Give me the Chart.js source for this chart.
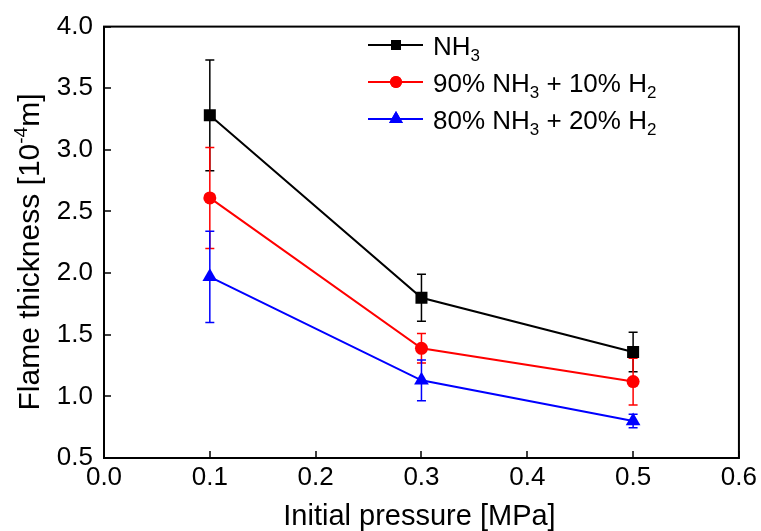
<!DOCTYPE html>
<html>
<head>
<meta charset="utf-8">
<script src="https://cdn.jsdelivr.net/npm/chart.js@4.4.1/dist/chart.umd.min.js"></script>
<style>
html,body{margin:0;padding:0;background:#fff;}
#wrap{width:761px;height:531px;position:relative;}
</style>
</head>
<body>
<div id="wrap"><canvas id="c" width="761" height="531"></canvas></div>
<script>
// ---- data ----
const pressures = [0.1, 0.3, 0.5];
const nh3 = [3.28, 1.80, 1.36];
const nh3Err = [0.45, 0.19, 0.16];
const h2_10 = [2.61, 1.39, 1.12];
const h2_10Err = [0.41, 0.12, 0.19];
const h2_20 = [1.97, 1.13, 0.80];
const h2_20Err = [0.37, 0.165, 0.055];
const xTicks = [0.0, 0.1, 0.2, 0.3, 0.4, 0.5, 0.6];
const yTicks = [0.5, 1.0, 1.5, 2.0, 2.5, 3.0, 3.5, 4.0];
const legendLabels = [
  [['NH', 'n'], ['3', 'sub']],
  [['90% NH', 'n'], ['3', 'sub'], [' + 10% H', 'n'], ['2', 'sub']],
  [['80% NH', 'n'], ['3', 'sub'], [' + 20% H', 'n'], ['2', 'sub']]
];

const REG = '"Liberation Sans", Arial, sans-serif';

function pts(ys){ return pressures.map((x,i)=>({x:x, y:ys[i]})); }

const series = [
  {label:'NH3', data:nh3, err:nh3Err, color:'#000000', style:'rect', r:8.5, lr:7},
  {label:'90% NH3 + 10% H2', data:h2_10, err:h2_10Err, color:'#ff0000', style:'circle', r:6.5, lr:6},
  {label:'80% NH3 + 20% H2', data:h2_20, err:h2_20Err, color:'#0000ff', style:'triangle', r:8.5, lr:8}
];

const errorBars = {
  id:'errorBars',
  beforeDatasetsDraw(chart){
    const ctx = chart.ctx, xs = chart.scales.x, ys = chart.scales.y;
    ctx.save();
    series.forEach(s=>{
      ctx.strokeStyle = s.color;
      ctx.lineWidth = 1.5;
      pressures.forEach((p,i)=>{
        const px = xs.getPixelForValue(p);
        const top = ys.getPixelForValue(s.data[i] + s.err[i]);
        const bot = ys.getPixelForValue(s.data[i] - s.err[i]);
        ctx.beginPath();
        ctx.moveTo(px, top); ctx.lineTo(px, bot);
        ctx.moveTo(px-4.5, top); ctx.lineTo(px+4.5, top);
        ctx.moveTo(px-4.5, bot); ctx.lineTo(px+4.5, bot);
        ctx.stroke();
      });
    });
    ctx.restore();
  }
};

const frame = {
  id:'frame',
  afterDraw(chart){
    const ctx = chart.ctx, a = chart.chartArea, xs = chart.scales.x, ys = chart.scales.y;
    ctx.save();
    ctx.strokeStyle = '#000';
    ctx.lineWidth = 2;
    ctx.strokeRect(a.left, a.top, a.right - a.left, a.bottom - a.top);
    ctx.lineWidth = 1.5;
    ctx.beginPath();
    xTicks.forEach(v=>{
      const px = Math.round(xs.getPixelForValue(v));
      ctx.moveTo(px, a.bottom); ctx.lineTo(px, a.bottom - 7);
    });
    yTicks.forEach(v=>{
      const py = Math.round(ys.getPixelForValue(v));
      ctx.moveTo(a.left, py); ctx.lineTo(a.left + 7, py);
    });
    ctx.stroke();

    // x title
    ctx.fillStyle = '#000';
    ctx.font = '29px ' + REG;
    ctx.textAlign = 'center';
    ctx.textBaseline = 'alphabetic';
    ctx.fillText('Initial pressure [MPa]', (a.left + a.right)/2 - 2, 525);

    // y title with superscript
    ctx.save();
    ctx.translate(39, 252);
    ctx.rotate(-Math.PI/2);
    const parts = [['Flame thickness [10', 30, 0], ['-4', 19, -12], ['m]', 30, 0]];
    let total = 0;
    parts.forEach(p=>{ ctx.font = p[1] + 'px ' + REG; total += ctx.measureText(p[0]).width; });
    let x = -total/2;
    ctx.textAlign = 'left';
    parts.forEach(p=>{ ctx.font = p[1] + 'px ' + REG; ctx.fillText(p[0], x, p[2]); x += ctx.measureText(p[0]).width; });
    ctx.restore();

    // legend
    const rows = [45, 82, 119];
    ctx.textAlign = 'left';
    ctx.textBaseline = 'alphabetic';
    series.forEach((s,i)=>{
      const y = rows[i];
      ctx.strokeStyle = s.color; ctx.lineWidth = 2;
      ctx.beginPath(); ctx.moveTo(368, y); ctx.lineTo(423, y); ctx.stroke();
      ctx.fillStyle = s.color;
      Chart.helpers.drawPoint(ctx, {pointStyle:s.style, radius:s.lr, borderWidth:0}, 396, y);
      ctx.fill();
      ctx.fillStyle = '#000';
      let tx = 433;
      legendLabels[i].forEach(seg=>{
        if (seg[1] === 'sub'){ ctx.font = '17px ' + REG; ctx.fillText(seg[0], tx, y + 16); }
        else { ctx.font = '26px ' + REG; ctx.fillText(seg[0], tx, y + 10); }
        tx += ctx.measureText(seg[0]).width;
      });
    });
    ctx.restore();
  }
};

new Chart(document.getElementById('c'), {
  type:'line',
  data:{
    datasets: series.map(s=>({
      label:s.label,
      data:pts(s.data),
      borderColor:s.color,
      backgroundColor:s.color,
      borderWidth:2,
      pointStyle:s.style,
      pointRadius:s.r,
      pointHoverRadius:s.r,
      pointBorderWidth:0,
      tension:0
    }))
  },
  options:{
    responsive:false,
    animation:false,
    events:[],
    layout:{padding:{top:23, right:21, left:0, bottom:0}},
    plugins:{legend:{display:false}, tooltip:{enabled:false}},
    scales:{
      x:{
        type:'linear', min:0, max:0.6,
        afterFit(s){ s.height = 73; },
        afterBuildTicks(s){ s.ticks = xTicks.map(v=>({value:v})); },
        grid:{display:false, drawTicks:false},
        border:{display:false},
        ticks:{padding:4, color:'#000', font:{family:REG, size:26}, callback:v=>Number(v).toFixed(1), maxRotation:0}
      },
      y:{
        type:'linear', min:0.5, max:4.0,
        afterFit(s){ s.width = 104; },
        afterBuildTicks(s){ s.ticks = yTicks.map(v=>({value:v})); },
        grid:{display:false, drawTicks:false},
        border:{display:false},
        ticks:{padding:11, color:'#000', font:{family:REG, size:26}, callback:v=>Number(v).toFixed(1)}
      }
    }
  },
  plugins:[errorBars, frame]
});
</script>
</body>
</html>
